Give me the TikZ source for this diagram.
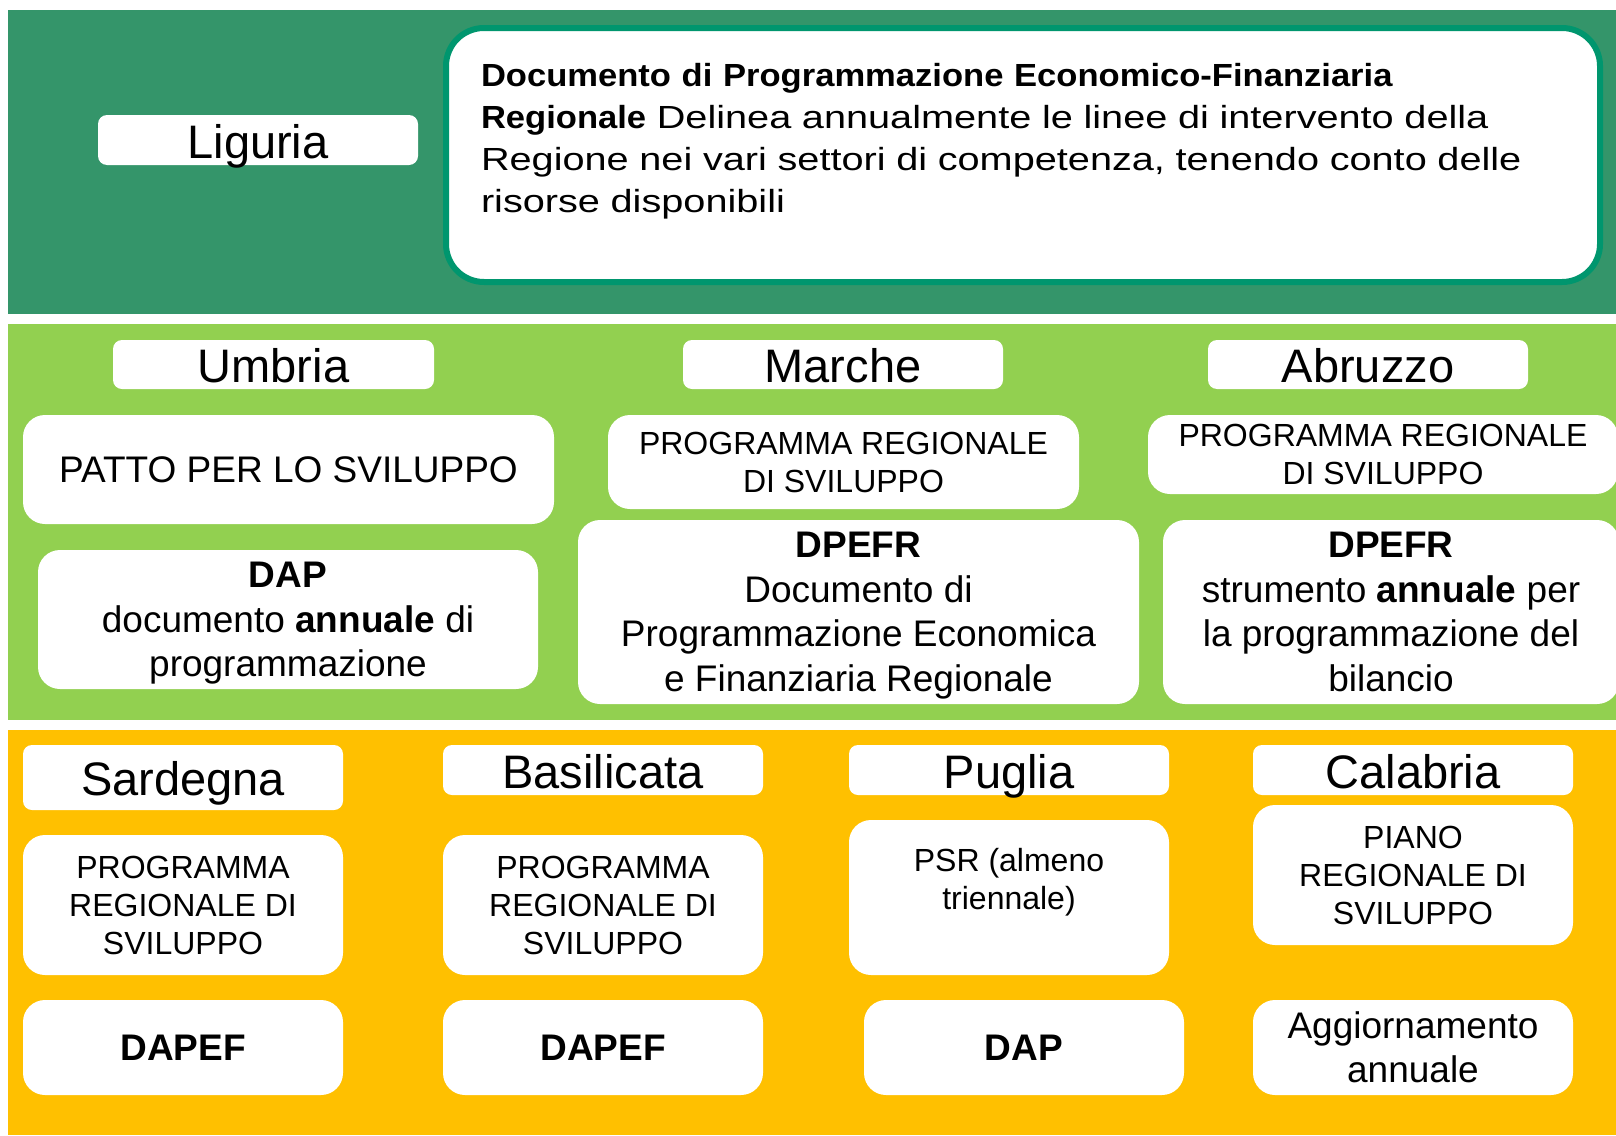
\documentclass[tikz,border=0pt]{standalone}
\usepackage{fontspec}
\setmainfont{Liberation Sans}
\newfontfamily\ligfont[FakeStretch=1.24]{Liberation Sans}
\newfontfamily\ligbold[FakeStretch=1.08]{Liberation Sans}
\definecolor{ligband}{RGB}{52,149,106}
\definecolor{centroband}{RGB}{146,208,80}
\definecolor{sudband}{RGB}{255,192,0}
\definecolor{ligborder}{RGB}{0,150,110}
\newcommand{\nodepth}[1]{\raisebox{0pt}[\height][0pt]{#1}}

\begin{document}
\begin{tikzpicture}[
    x=1pt, y=-1pt,
    every node/.style={fill=white, align=center, inner sep=0pt},
    regione/.style={rounded corners=9pt, minimum width=320pt, minimum height=50pt,
        font=\fontsize{47}{50}\selectfont, text height=36pt, text depth=0pt},
    atto/.style={rounded corners=22pt},
    piccolo/.style={font=\fontsize{32}{38}\selectfont},
    grande/.style={font=\fontsize{37}{44.5}\selectfont}
]
    \useasboundingbox (0,0) rectangle (1616,1135);

    % bande
    \fill[ligband] (8,10) rectangle (1616,314);
    \fill[centroband] (8,324) rectangle (1616,720);
    \fill[sudband] (8,730) rectangle (1616,1135);

    % Liguria
    \node[regione] (liguria) at (258,140) {Liguria};
    \node[draw=ligborder, line width=6pt, rounded corners=38pt, minimum width=1154pt,
        minimum height=254pt, text width=1084pt, align=left,
        font=\ligfont\fontsize{32}{42}\selectfont] (ligdoc) at (1023,155)
        {{\ligbold\bfseries Documento di Programmazione Economico-Finanziaria}\\
         {\ligbold\bfseries Regionale} Delinea annualmente le linee di intervento della\\
         Regione nei vari settori di competenza, tenendo conto delle\\
         risorse disponibili\\[-8pt]
         \rule{0pt}{0pt}};

    % centro
    \node[regione, minimum width=321pt, minimum height=49pt] (umbria) at (273.5,364.5) {Umbria};
    \node[regione, minimum height=49pt] (marche) at (843,364.5) {Marche};
    \node[regione, minimum height=49pt] (abruzzo) at (1368,364.5) {Abruzzo};

    \node[atto, grande, minimum width=531pt, minimum height=109pt] (patto) at (288.5,469.5)
        {PATTO PER LO SVILUPPO};
    \node[atto, grande, minimum width=500pt, minimum height=139pt] (umbriadap) at (288,619.5)
        {\textbf{DAP}\\documento \textbf{annuale} di\\\nodepth{programmazione}};
    \node[atto, piccolo, minimum width=471pt, minimum height=94pt] (marcheprs) at (843.5,462)
        {PROGRAMMA REGIONALE\\DI SVILUPPO};
    \node[atto, grande, minimum width=561pt, minimum height=184pt] (marchedpefr) at (858.5,612)
        {\textbf{DPEFR}\\Documento di\\Programmazione Economica\\\nodepth{e Finanziaria Regionale}};
    \node[atto, piccolo, minimum width=470pt, minimum height=79pt] (abruzzoprs) at (1383,454.5)
        {PROGRAMMA REGIONALE\\DI SVILUPPO};
    \node[atto, grande, minimum width=456pt, minimum height=184pt] (abruzzodpefr) at (1391,612)
        {\textbf{DPEFR}\\strumento \textbf{annuale} per\\la programmazione del\\bilancio};

    % sud
    \node[regione, minimum height=65pt] (sardegna) at (183,777.5) {Sardegna};
    \node[regione] (basilicata) at (603,770) {Basilicata};
    \node[regione] (puglia) at (1009,770) {Puglia};
    \node[regione] (calabria) at (1413,770) {Calabria};

    \node[atto, piccolo, minimum width=320pt, minimum height=140pt] (sardegnaprs) at (183,905)
        {PROGRAMMA\\REGIONALE DI\\SVILUPPO};
    \node[atto, piccolo, minimum width=320pt, minimum height=140pt] (basilicataprs) at (603,905)
        {PROGRAMMA\\REGIONALE DI\\SVILUPPO};
    \node[atto, piccolo, minimum width=320pt, minimum height=155pt] (pugliapsr) at (1009,897.5)
        {PSR (almeno\\triennale)\\\rule{0pt}{0pt}};
    \node[atto, piccolo, minimum width=320pt, minimum height=140pt] (calabriaprs) at (1413,875)
        {PIANO\\REGIONALE DI\\SVILUPPO};

    \node[atto, grande, minimum width=320pt, minimum height=95pt] (sardegnadapef) at (183,1047.5)
        {\textbf{DAPEF}};
    \node[atto, grande, minimum width=320pt, minimum height=95pt] (basilicatadapef) at (603,1047.5)
        {\textbf{DAPEF}};
    \node[atto, grande, minimum width=320pt, minimum height=95pt] (pugliadap) at (1024,1047.5)
        {\textbf{DAP}};
    \node[atto, grande, minimum width=320pt, minimum height=95pt] (calabriaagg) at (1413,1047.5)
        {Aggiornamento\\annuale};
\end{tikzpicture}
\end{document}
